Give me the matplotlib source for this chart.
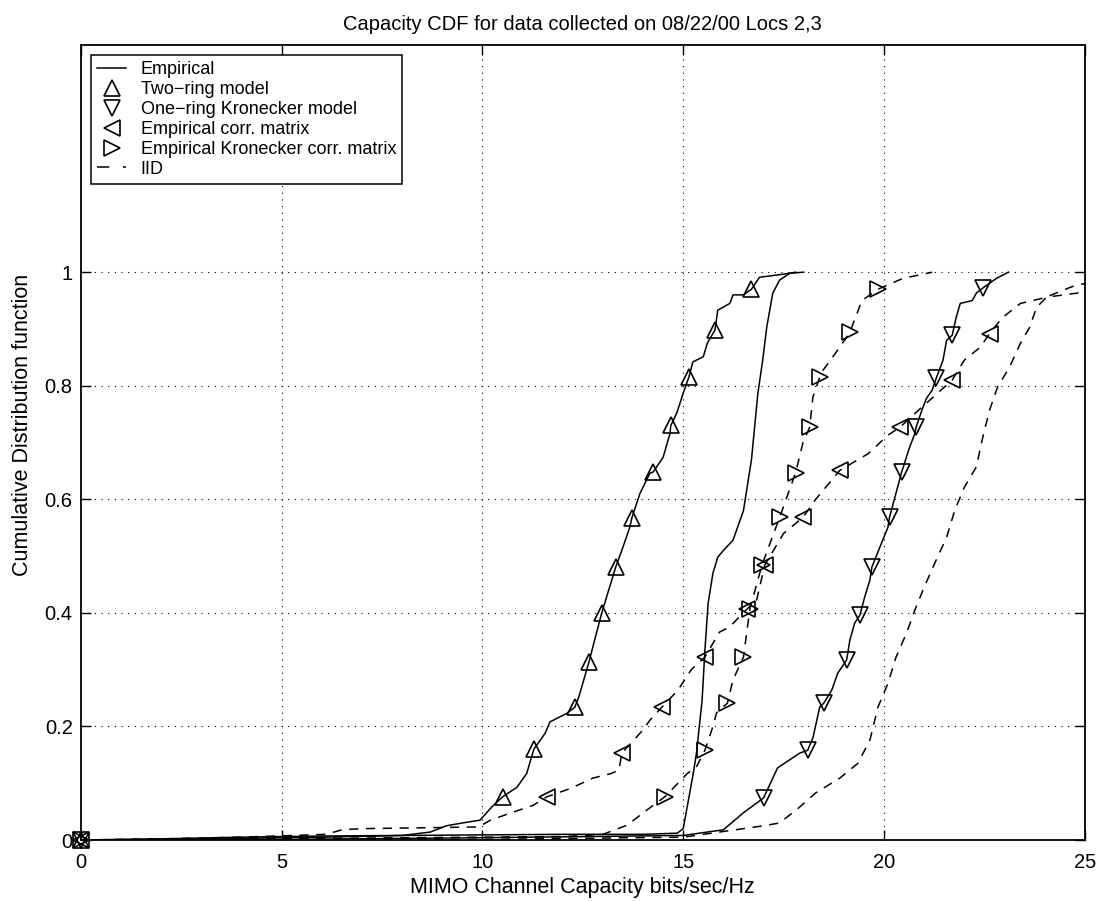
import numpy as np
import matplotlib
matplotlib.use("Agg")
import matplotlib.pyplot as plt
from matplotlib.lines import Line2D

plt.rcParams['font.family'] = ['Liberation Sans', 'DejaVu Sans']

# --- curves (capacity in bits/sec/Hz, CDF value) ---
emp_x = [0, 2, 4, 6, 8, 10, 12, 14, 14.85, 15.0, 15.25, 15.33, 15.47, 15.54, 15.62,
         15.74, 15.86, 16.0, 16.24, 16.5, 16.7, 16.86, 16.98, 17.08, 17.23, 17.4, 17.65, 18.0]
emp_y = [0, 0.002, 0.005, 0.007, 0.008, 0.009, 0.01, 0.01, 0.012, 0.02, 0.117, 0.153, 0.246,
         0.334, 0.417, 0.47, 0.498, 0.51, 0.528, 0.58, 0.67, 0.787, 0.845, 0.903, 0.963,
         0.986, 0.998, 1.0]

two_x = [0, 3, 6, 8, 8.7, 9.1, 9.5, 9.94, 10.23, 10.5, 10.86, 11.1, 11.28, 11.56, 11.68,
         12.1, 12.3, 12.4, 12.65, 12.97, 13.32, 13.5, 13.67, 13.72, 13.92, 14.17, 14.25, 14.5,
         14.67, 14.69, 14.84, 15.0, 15.14, 15.24, 15.5, 15.6, 15.79, 15.86, 16.16, 16.24, 16.5,
         16.7, 16.9, 17.65, 17.8]
two_y = [0, 0.002, 0.005, 0.008, 0.014, 0.025, 0.03, 0.035, 0.058, 0.076, 0.093, 0.117, 0.16,
         0.188, 0.208, 0.223, 0.234, 0.252, 0.313, 0.40, 0.481, 0.516, 0.551, 0.567, 0.61,
         0.646, 0.648, 0.674, 0.716, 0.73, 0.752, 0.787, 0.815, 0.842, 0.851, 0.875, 0.898,
         0.933, 0.945, 0.96, 0.96, 0.97, 0.991, 0.998, 1.0]
two_mx = [0, 10.5, 11.28, 12.3, 12.65, 12.97, 13.32, 13.72, 14.25, 14.69, 15.14, 15.79, 16.7]
two_my = [0, 0.076, 0.16, 0.234, 0.313, 0.40, 0.481, 0.567, 0.648, 0.73, 0.815, 0.898, 0.97]

one_x = [0, 5, 10, 15.0, 16.0, 16.5, 17.0, 17.35, 17.9, 18.1, 18.23, 18.4, 18.5, 18.7, 18.85,
         19.07, 19.15, 19.27, 19.4, 19.52, 19.65, 19.7, 19.9, 20.1, 20.14, 20.3, 20.44, 20.64,
         20.77, 20.8, 20.97, 21.06, 21.2, 21.3, 21.47, 21.56, 21.7, 21.8, 21.9, 22.2, 22.3,
         22.46, 22.8, 23.1]
one_y = [0, 0.001, 0.004, 0.008, 0.018, 0.048, 0.074, 0.127, 0.153, 0.158, 0.18, 0.234, 0.241,
         0.264, 0.294, 0.317, 0.352, 0.382, 0.396, 0.428, 0.458, 0.481, 0.516, 0.551, 0.569,
         0.611, 0.648, 0.692, 0.716, 0.727, 0.762, 0.778, 0.792, 0.813, 0.845, 0.88, 0.889,
         0.921, 0.945, 0.95, 0.963, 0.972, 0.989, 1.0]
one_mx = [0, 17.0, 18.1, 18.5, 19.07, 19.4, 19.7, 20.14, 20.44, 20.8, 21.3, 21.7, 22.46]
one_my = [0, 0.074, 0.158, 0.241, 0.317, 0.396, 0.481, 0.569, 0.648, 0.727, 0.813, 0.889, 0.972]

ecm_x = [0, 2, 4, 6.1, 6.5, 7, 8, 9.9, 10.2, 10.76, 11.26, 11.6, 12.2, 12.75, 13.2, 13.4, 13.47,
         14.0, 14.17, 14.47, 14.87, 15.2, 15.54, 15.9, 16.15, 16.58, 16.83, 17.03, 17.5, 17.98,
         18.3, 18.9, 19.6, 20.1, 20.4, 20.8, 21.7, 22.0, 22.4, 22.63, 22.95, 23.4, 24.0, 24.7, 25]
ecm_y = [0, 0.002, 0.005, 0.01, 0.018, 0.02, 0.021, 0.023, 0.035, 0.049, 0.061, 0.076, 0.091,
         0.109, 0.117, 0.123, 0.153, 0.194, 0.211, 0.234, 0.264, 0.30, 0.322, 0.366, 0.375,
         0.406, 0.423, 0.484, 0.54, 0.568, 0.60, 0.651, 0.68, 0.713, 0.727, 0.753, 0.81, 0.845,
         0.868, 0.892, 0.92, 0.945, 0.955, 0.975, 0.98]
ecm_mx = [0, 11.6, 13.47, 14.47, 15.54, 16.58, 17.03, 17.98, 18.9, 20.4, 21.7, 22.63]
ecm_my = [0, 0.076, 0.153, 0.234, 0.322, 0.406, 0.484, 0.568, 0.651, 0.727, 0.81, 0.892]

ekr_x = [0, 4, 8, 12, 13.0, 13.6, 14.1, 14.54, 15.1, 15.33, 15.54, 15.74, 15.83, 16.1, 16.24,
         16.5, 16.66, 16.96, 17.4, 17.8, 17.98, 18.15, 18.23, 18.4, 18.48, 18.9, 19.15, 19.45,
         19.85, 20.47, 21.2]
ekr_y = [0, 0.002, 0.004, 0.006, 0.01, 0.026, 0.053, 0.076, 0.117, 0.129, 0.158, 0.2, 0.224,
         0.241, 0.282, 0.322, 0.407, 0.484, 0.568, 0.647, 0.699, 0.727, 0.78, 0.815, 0.827,
         0.868, 0.894, 0.95, 0.97, 0.989, 1.0]
ekr_mx = [0, 14.54, 15.54, 16.1, 16.5, 16.66, 16.96, 17.4, 17.8, 18.15, 18.4, 19.15, 19.85]
ekr_my = [0, 0.076, 0.158, 0.241, 0.322, 0.407, 0.484, 0.568, 0.647, 0.727, 0.815, 0.894, 0.97]

iid_x = [0, 10, 15, 16.3, 17.0, 17.4, 17.9, 18.3, 18.9, 19.35, 19.65, 19.85, 20.1, 20.3, 20.56,
         20.77, 21.0, 21.3, 21.56, 21.76, 22.0, 22.3, 22.46, 22.63, 22.83, 23.13, 23.4, 23.63,
         23.8, 24.05, 24.8, 25]
iid_y = [0, 0.001, 0.005, 0.018, 0.025, 0.03, 0.058, 0.083, 0.109, 0.135, 0.176, 0.234, 0.276,
         0.322, 0.364, 0.405, 0.445, 0.493, 0.533, 0.58, 0.621, 0.657, 0.709, 0.757, 0.798,
         0.833, 0.875, 0.903, 0.938, 0.956, 0.963, 0.965]

labels = ['Empirical', 'Two\u2212ring model', 'One\u2212ring Kronecker model',
          'Empirical corr. matrix', 'Empirical Kronecker corr. matrix', 'IID']
xticks = [0, 5, 10, 15, 20, 25]
yticks = [0, 0.2, 0.4, 0.6, 0.8, 1]

fig = plt.figure(figsize=(10.99, 9.01), dpi=100)
ax = fig.add_axes([0.0737, 0.0677, 0.9133, 0.8823])

lw = 1.1
dash = (0, (6, 5))
mk = dict(linestyle='none', markersize=11.5, markerfacecolor='none',
          markeredgecolor='k', markeredgewidth=1.2, clip_on=False, zorder=4)

ax.plot(emp_x, emp_y, 'k-', lw=lw)
ax.plot(two_x, two_y, 'k-', lw=lw)
ax.plot(one_x, one_y, 'k-', lw=lw)
ax.plot(ecm_x, ecm_y, color='k', ls=dash, lw=lw)
ax.plot(ekr_x, ekr_y, color='k', ls=dash, lw=lw)
ax.plot(iid_x, iid_y, color='k', ls=dash, lw=lw)

ax.plot(two_mx, two_my, marker='^', **mk)
ax.plot(one_mx, one_my, marker='v', **mk)
ax.plot(ecm_mx, ecm_my, marker='<', **mk)
ax.plot(ekr_mx, ekr_my, marker='>', **mk)

ax.set_xlim(0, 25)
ax.set_ylim(0, 1.4)
ax.set_xticks(xticks)
ax.set_yticks(yticks)
ax.set_xticklabels([str(t) for t in xticks])
ax.set_yticklabels(['0', '0.2', '0.4', '0.6', '0.8', '1'])
ax.tick_params(direction='in', top=True, right=True, length=7, width=1.0,
               labelsize=14.5, colors='k')
ax.tick_params(axis='x', pad=9)
ax.tick_params(axis='y', pad=6)
for s in ax.spines.values():
    s.set_linewidth(1.3)

grid = dict(color='k', lw=0.8, ls=(0, (1, 5)), zorder=0)
for gx in xticks[1:-1]:
    ax.axvline(gx, **grid)
for gy in yticks[1:]:
    ax.axhline(gy, **grid)

ax.set_title('Capacity CDF for data collected on 08/22/00 Locs 2,3', fontsize=14.5, pad=11)
ax.set_xlabel('MIMO Channel Capacity bits/sec/Hz', fontsize=15.5, labelpad=4)
ax.set_ylabel('Cumulative Distribution function', fontsize=15.5)
ax.yaxis.set_label_coords(-0.048, 0.522)

mleg = dict(linestyle='none', markersize=11.5, markerfacecolor='none',
            markeredgecolor='k', markeredgewidth=1.2)
handles = [Line2D([], [], color='k', lw=lw),
           Line2D([], [], marker='^', **mleg),
           Line2D([], [], marker='v', **mleg),
           Line2D([], [], marker='<', **mleg),
           Line2D([], [], marker='>', **mleg),
           Line2D([], [], color='k', lw=lw, ls=(0, (8, 9)))]
leg = ax.legend(handles, labels, loc='upper left', fontsize=13, frameon=True,
                fancybox=False, edgecolor='k', framealpha=1, handlelength=1.6,
                handletextpad=0.8, borderpad=0.35, labelspacing=0.16,
                borderaxespad=0.55)
leg.get_frame().set_linewidth(1.1)

fig.savefig('out.png', dpi=100)
